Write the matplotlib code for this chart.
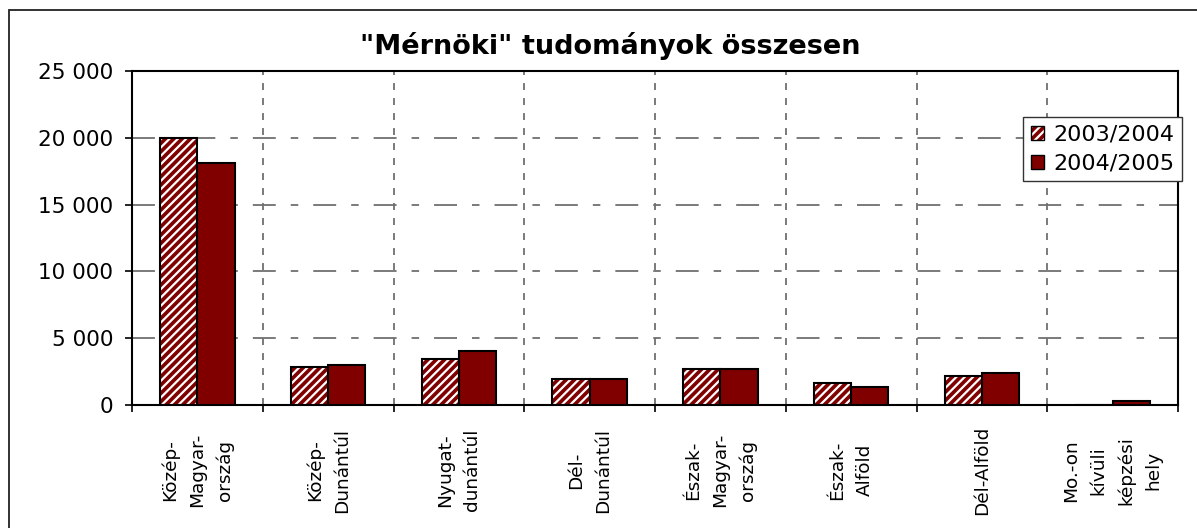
import matplotlib
matplotlib.use('Agg')
import matplotlib.pyplot as plt
from matplotlib.patches import Patch, Rectangle
from matplotlib.ticker import FuncFormatter
import numpy as np

# Données
regions = ['Közép-\nMagyar-\nország', 'Közép-\nDunántúl', 'Nyugat-\ndunántúl',
           'Dél-\nDunántúl', 'Észak-\nMagyar-\nország', 'Észak-\nAlföld',
           'Dél-Alföld', 'Mo.-on\nkívüli\nképzési\nhely']
ev_2003 = [20000, 2810, 3410, 1950, 2700, 1680, 2200, 0]
ev_2004 = [18100, 2960, 4040, 1950, 2700, 1320, 2370, 280]
labels = ['2003/2004', '2004/2005']

red = '#800000'
plt.rcParams['hatch.color'] = 'white'
plt.rcParams['hatch.linewidth'] = 1.6
plt.rcParams['lines.scale_dashes'] = False

W, H = 1197, 528
fig = plt.figure(figsize=(W / 100, H / 100), dpi=100)
ax = fig.add_axes([132 / W, 1 - 405 / H, (1178 - 132) / W, (405 - 71) / H])

x = np.arange(len(regions))
w = 0.285

# barres hachurées + contour
ax.bar(x - w / 2, ev_2003, w, color=red, hatch='////', linewidth=0, zorder=2)
ax.bar(x - w / 2, ev_2003, w, fill=False, edgecolor='black', linewidth=1.5, zorder=3)
ax.bar(x + w / 2, ev_2004, w, color=red, edgecolor='black', linewidth=1.5, zorder=3)

ax.set_xlim(-0.5, len(regions) - 0.5)
ax.set_ylim(0, 25000)
ax.set_yticks(np.arange(0, 25001, 5000))
ax.yaxis.set_major_formatter(FuncFormatter(lambda v, p: f'{int(v):,}'.replace(',', ' ')))

ax.set_xticks(np.arange(-0.5, len(regions), 1.0))
ax.set_xticklabels([])
ax.set_xticks(x, regions, minor=True, rotation=90, ha='center', va='center',
              multialignment='center', fontsize=13.3, linespacing=1.65)
ax.tick_params(axis='x', which='major', length=5, width=1.2, direction='out')
ax.tick_params(axis='x', which='minor', length=0, pad=47)
ax.tick_params(axis='y', length=5, width=1.2, pad=8.5, labelsize=15.5)

for s in ax.spines.values():
    s.set_linewidth(1.5)
    s.set_color('black')

ax.set_axisbelow(True)
ax.yaxis.grid(True, color='#707070', linewidth=1.3, linestyle=(0, (16.5, 10.8, 5.4, 10.8)))
ax.xaxis.grid(True, which='major', color='#707070', linewidth=1.3, linestyle=(0, (5, 5.8)))

# Légende
h1 = (Patch(facecolor=red, hatch='////'), Patch(fill=False, edgecolor='black', linewidth=1))
h2 = Patch(facecolor=red, edgecolor='black', linewidth=1)
leg = fig.legend([h1, h2], labels, loc='upper right',
                 bbox_to_anchor=(1182 / W, 1 - 117 / H), fontsize=16,
                 handlelength=0.6, handleheight=0.6, handletextpad=0.4,
                 labelspacing=0.4, borderpad=0.35, borderaxespad=0,
                 fancybox=False, framealpha=1, edgecolor='#333333')
leg.get_frame().set_linewidth(1.0)

fig.text(610 / W, 1 - 54 / H, '"Mérnöki" tudományok összesen', ha='center',
         va='baseline', fontsize=19.5, fontweight='bold')

# cadre du graphique
fig.patches.append(Rectangle((9 / W, -0.5), 2, 1.5 - 10 / H, transform=fig.transFigure,
                             fill=False, edgecolor='#222222', linewidth=1.3))

fig.savefig('out.png', dpi=100)
